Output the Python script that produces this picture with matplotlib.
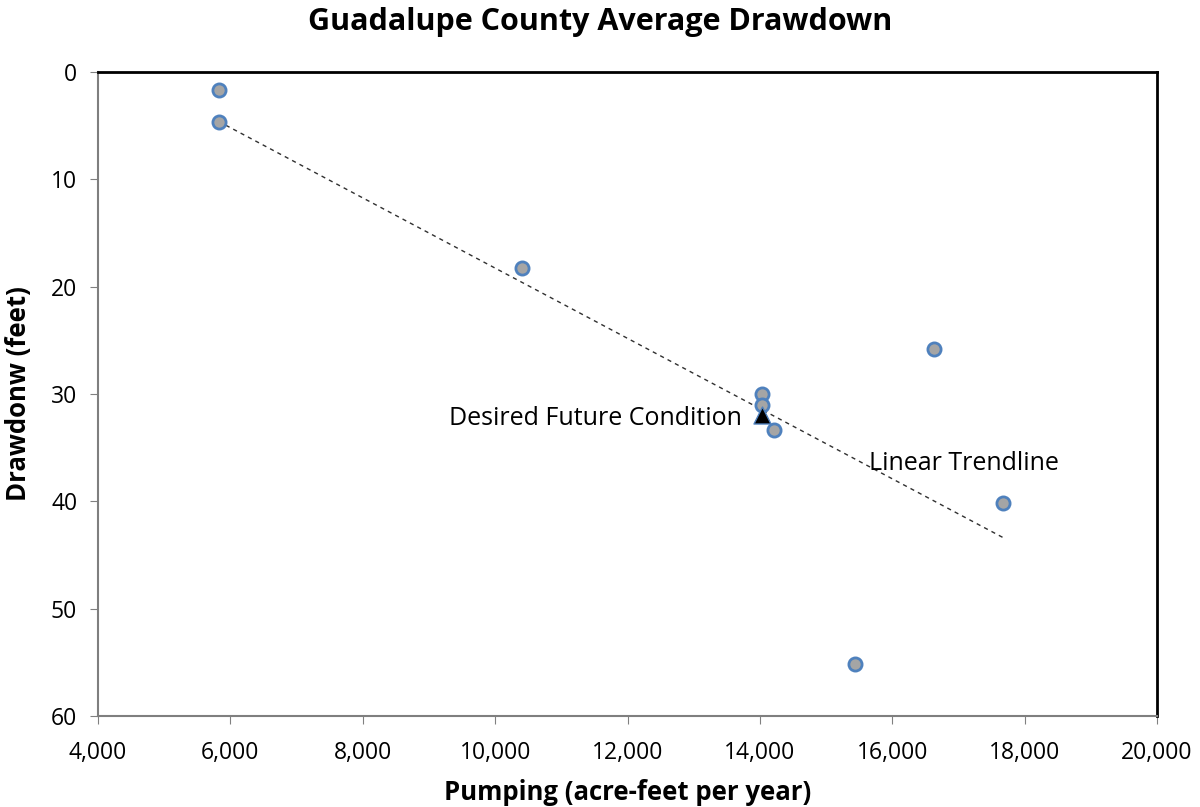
import matplotlib
matplotlib.use('Agg')
import matplotlib.pyplot as plt
import numpy as np
from matplotlib.ticker import FuncFormatter

plt.rcParams['font.family'] = ['Open Sans', 'DejaVu Sans']

# pumping (acre-feet/yr) vs average drawdown (feet)
pumping = [5820, 5820, 10400, 14030, 14030, 14220, 16630, 17680, 15440]
drawdown = [1.7, 4.7, 18.3, 30.0, 31.0, 33.4, 25.8, 40.2, 55.2]
dfc_pumping = 14030
dfc_drawdown = 32.0
trend_x = [5820, 17680]
trend_y = [4.6, 43.4]

fig = plt.figure(figsize=(12, 8.07), dpi=100)
ax = fig.add_axes([0.0817, 0.1128, 0.8825, 0.798])

ax.plot(trend_x, trend_y, ls=(0, (3, 3)), color='#303030', lw=1.0, zorder=2)
ax.scatter(pumping, drawdown, s=90, facecolor='#a5a5a5', edgecolor='#4f81bd', linewidth=2, zorder=3)
ax.scatter([dfc_pumping], [dfc_drawdown], s=150, marker='^', facecolor='black', edgecolor='#4f81bd', linewidth=1, zorder=4)

ax.text(13730, 32.3, 'Desired Future Condition', ha='right', va='center', fontsize=18)
ax.text(15650, 36.5, 'Linear Trendline', ha='left', va='center', fontsize=18)

ax.set_xlim(4000, 20000)
ax.set_ylim(60, 0)
ax.set_xticks(range(4000, 20001, 2000))
ax.set_yticks(range(0, 61, 10))
ax.xaxis.set_major_formatter(FuncFormatter(lambda v, p: '{:,.0f}'.format(v)))
ax.tick_params(axis='both', direction='out', length=6, color='#808080', labelsize=16.5)
ax.tick_params(axis='y', pad=9)
ax.tick_params(axis='x', pad=12)

for s in ['left', 'bottom']:
    ax.spines[s].set_color('#7f7f7f')
    ax.spines[s].set_linewidth(1.5)
for s in ['top', 'right']:
    ax.spines[s].set_color('black')
    ax.spines[s].set_linewidth(2)

ax.set_xlabel('Pumping (acre-feet per year)', fontsize=18.5, fontweight='bold', va='center')
ax.set_ylabel('Drawdonw (feet)', fontsize=18.5, fontweight='bold', va='center')
ax.xaxis.set_label_coords(0.5, -0.1196)
ax.yaxis.set_label_coords(-0.0755, 0.5)
fig.suptitle('Guadalupe County Average Drawdown', fontsize=22, fontweight='bold', y=0.9727, va='center')

plt.savefig('out.png')
